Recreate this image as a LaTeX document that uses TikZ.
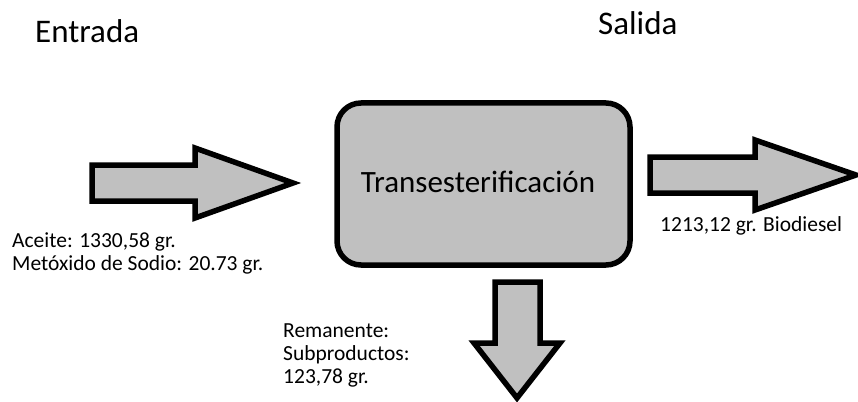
\documentclass[tikz,border=0pt]{standalone}
\usepackage{fontspec}
\setmainfont{Carlito}
\definecolor{fillgray}{HTML}{C0C0C0}
\begin{document}
\begin{tikzpicture}[x=1pt,y=-1pt,
  blockarrow/.style={draw=black,fill=fillgray,line width=5.5pt,line join=miter},
  procbox/.style={draw=black,fill=fillgray,line width=5.5pt,rounded corners=24pt},
  title/.style={font=\fontsize{33}{38}\selectfont,inner sep=0pt},
  lbl/.style={font=\fontsize{21.5}{23}\selectfont,inner sep=0pt,align=left}]
\useasboundingbox (0,0) rectangle (858,401);
\node[title,anchor=base west] (entrada) at (35,43) {Entrada};
\node[title,anchor=base west] (salida) at (598,35) {Salida};
% process box
\draw[procbox] (337,103) rectangle (630,265);
\node[font=\fontsize{31}{36}\selectfont,inner sep=0pt,anchor=base] (proc) at (478,192) {Transesterificación};
% input arrow
\draw[blockarrow] (92,165) -- (195,165) -- (195,148) -- (293,183) -- (195,218) -- (195,201) -- (92,201) -- cycle;
% output arrow
\draw[blockarrow] (650,157) -- (755,157) -- (755,140) -- (856,175) -- (755,210) -- (755,193) -- (650,193) -- cycle;
% down arrow
\draw[blockarrow] (495,282) -- (540,282) -- (540,343) -- (560,343) -- (517,398) -- (474,343) -- (495,343) -- cycle;
\node[lbl,anchor=base west] (inlbl1) at (12,247) {Aceite: 1330,58 gr.};
\node[lbl,anchor=base west] (inlbl2) at (12,270) {Metóxido de Sodio: 20.73 gr.};
\node[lbl,anchor=base west] (outlbl) at (660,231) {1213,12 gr. Biodiesel};
\node[lbl,anchor=base west] (remlbl1) at (283,337) {Remanente:};
\node[lbl,anchor=base west] (remlbl2) at (283,360) {Subproductos:};
\node[lbl,anchor=base west] (remlbl3) at (283,383) {123,78 gr.};
\end{tikzpicture}
\end{document}
